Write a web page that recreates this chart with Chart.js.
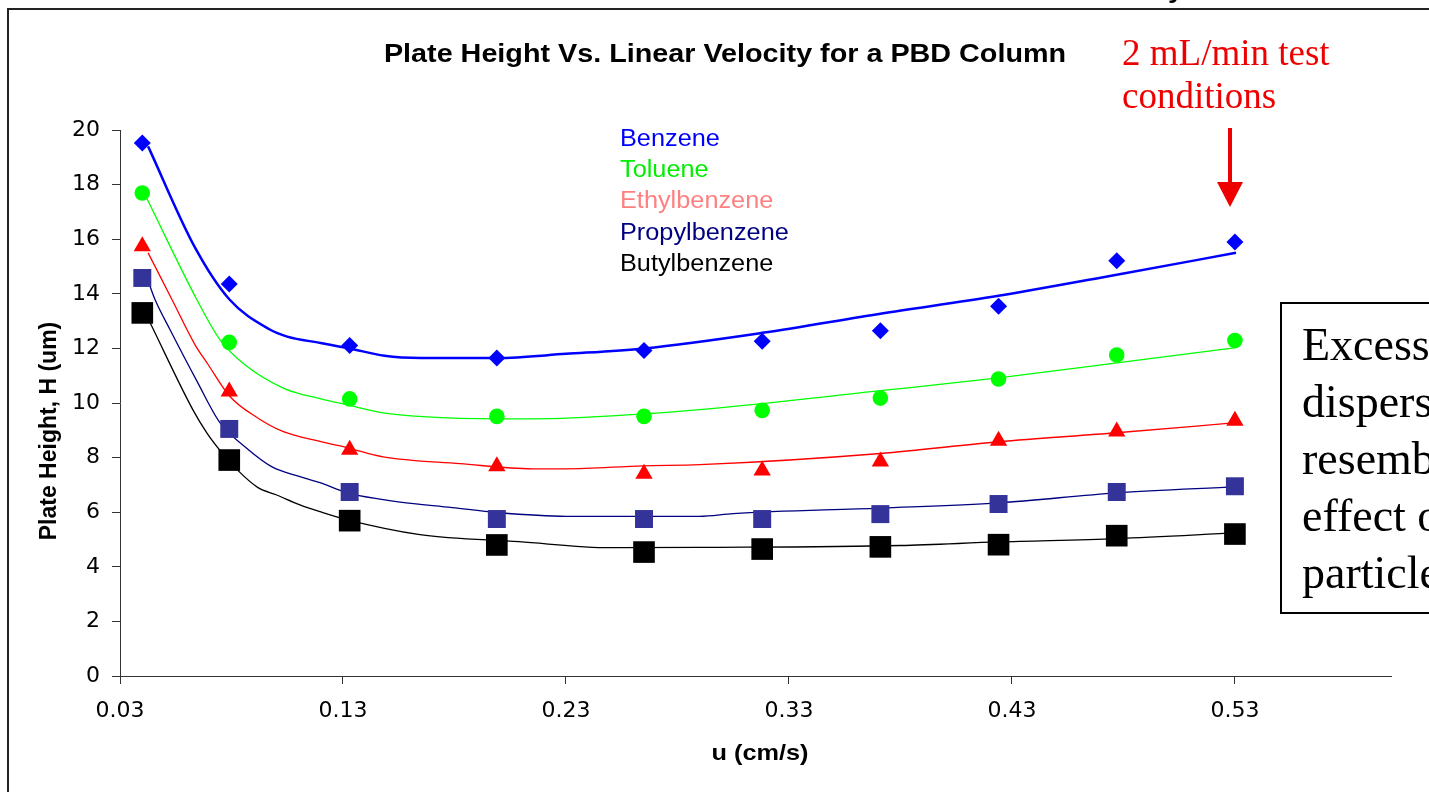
<!DOCTYPE html>
<html>
<head>
<meta charset="utf-8">
<title>Plate Height Vs. Linear Velocity</title>
<script src="https://cdn.jsdelivr.net/npm/chart.js@4.4.1/dist/chart.umd.min.js"></script>
<style>
  html, body { margin: 0; padding: 0; background: #fff; }
  #wrap { width: 1429px; height: 792px; position: relative; }
</style>
</head>
<body>
<div id="wrap"><canvas id="plot"></canvas></div>
<script>
const xTicks = [0.03, 0.13, 0.23, 0.33, 0.43, 0.53];

// measured plate heights (um) at each linear velocity (cm/s)
const velocity = [0.04, 0.079, 0.133, 0.199, 0.265, 0.318, 0.371, 0.424, 0.477, 0.53];
const benzene = [19.52, 14.36, 12.11, 11.65, 11.92, 12.26, 12.65, 13.54, 15.21, 15.9];
const toluene = [17.69, 12.22, 10.15, 9.51, 9.51, 9.73, 10.18, 10.88, 11.76, 12.29];
const ethylbenzene = [15.74, 10.42, 8.29, 7.68, 7.41, 7.53, 7.86, 8.62, 8.96, 9.35];
const propylbenzene = [14.58, 9.05, 6.74, 5.75, 5.75, 5.75, 5.93, 6.30, 6.74, 6.95];
const butylbenzene = [13.30, 7.91, 5.69, 4.80, 4.54, 4.65, 4.73, 4.81, 5.14, 5.20];

// fitted curves
const benzeneFitU = [0.0426, 0.0636, 0.079, 0.097, 0.105, 0.12, 0.133, 0.1486, 0.165, 0.199, 0.23, 0.265, 0.318, 0.371, 0.424, 0.477, 0.5305];
const benzeneFit = [19.4, 15.7, 13.8, 12.7, 12.43, 12.2, 12.0, 11.73, 11.65, 11.65, 11.8, 12.0, 12.57, 13.27, 13.93, 14.7, 15.5];
const tolueneFitU = [0.042, 0.0645, 0.0748, 0.086, 0.104, 0.1197, 0.132, 0.148, 0.166, 0.199, 0.215, 0.2645, 0.29, 0.371, 0.424, 0.477, 0.5305];
const tolueneFit = [17.5, 13.78, 12.32, 11.4, 10.52, 10.16, 9.93, 9.64, 9.5, 9.42, 9.42, 9.6, 9.76, 10.45, 10.92, 11.47, 12.03];
const ethylFitU = [0.0426, 0.0533, 0.0636, 0.0695, 0.0793, 0.0914, 0.103, 0.1197, 0.132, 0.148, 0.1825, 0.215, 0.23, 0.2645, 0.29, 0.371, 0.424, 0.477, 0.5305];
const ethylFit = [15.5, 13.79, 12.14, 11.41, 10.24, 9.47, 8.96, 8.59, 8.36, 8.03, 7.78, 7.59, 7.59, 7.70, 7.74, 8.15, 8.58, 8.91, 9.28];
const propylFitU = [0.0435, 0.0457, 0.0524, 0.0645, 0.0748, 0.086, 0.098, 0.1107, 0.1197, 0.132, 0.148, 0.1556, 0.179, 0.199, 0.23, 0.29, 0.305, 0.371, 0.424, 0.477, 0.5305];
const propylFit = [14.27, 13.79, 12.69, 10.8, 9.28, 8.4, 7.67, 7.3, 7.08, 6.71, 6.46, 6.37, 6.17, 5.99, 5.85, 5.85, 5.95, 6.15, 6.34, 6.71, 6.93];
const butylFitU = [0.0435, 0.0627, 0.069, 0.0757, 0.0825, 0.0919, 0.1, 0.1107, 0.1197, 0.132, 0.1645, 0.209, 0.25, 0.29, 0.38, 0.424, 0.477, 0.5305];
const butylFit = [12.94, 9.75, 8.9, 8.18, 7.56, 6.9, 6.64, 6.27, 6.02, 5.72, 5.18, 4.92, 4.70, 4.71, 4.78, 4.91, 5.03, 5.24];

const legendNames = ["Benzene", "Toluene", "Ethylbenzene", "Propylbenzene", "Butylbenzene"];
const legendColors = ["#0000ff", "#00ee00", "#ff8080", "#000080", "#000000"];

const sans = '"Liberation Sans", Arial, sans-serif';
const serif = '"Liberation Serif", "Times New Roman", serif';

function points(us, hs) {
  let out = [];
  for (let i = 0; i < us.length; i++) {
    out.push({ x: us[i], y: hs[i] });
  }
  return out;
}

function markerSet(label, hs, style, radius, color) {
  return {
    label: label,
    data: points(velocity, hs),
    showLine: false,
    pointStyle: style,
    pointRadius: radius,
    pointHoverRadius: radius,
    pointBackgroundColor: color,
    pointBorderWidth: 0,
    order: 0
  };
}

function fitSet(label, us, hs, color, width) {
  return {
    label: label,
    data: points(us, hs),
    showLine: true,
    borderColor: color,
    borderWidth: width,
    pointRadius: 0,
    cubicInterpolationMode: "monotone",
    order: 1
  };
}

// text squeezed/stretched along x
function wideText(ctx, text, x, y, font, color, align, sx) {
  ctx.save();
  ctx.translate(x, y);
  ctx.scale(sx, 1);
  ctx.font = font;
  ctx.fillStyle = color;
  ctx.textAlign = align;
  ctx.textBaseline = "alphabetic";
  ctx.fillText(text, 0, 0);
  ctx.restore();
}

const decorations = {
  id: "decorations",
  beforeDraw(chart) {
    const ctx = chart.ctx;
    ctx.save();
    ctx.fillStyle = "#fff";
    ctx.fillRect(0, 0, chart.width, chart.height);
    ctx.restore();
  },
  afterDraw(chart) {
    const ctx = chart.ctx;

    // frame round the whole chart object
    ctx.save();
    ctx.strokeStyle = "#222";
    ctx.lineWidth = 2;
    ctx.strokeRect(8, 9, 1500, 900);
    ctx.restore();

    wideText(ctx, "y", 1168, -2, "bold 24px " + sans, "#000", "left", 1.15);

    wideText(ctx, "Plate Height Vs. Linear Velocity for a PBD Column", 725, 62, "bold 25px " + sans, "#000", "center", 1.15);

    for (let i = 0; i < legendNames.length; i++) {
      wideText(ctx, legendNames[i], 620, 146 + i * 31.2, "23px " + sans, legendColors[i], "left", 1.1);
    }

    wideText(ctx, "u (cm/s)", 760, 760, "bold 22px " + sans, "#000", "center", 1.15);

    ctx.save();
    ctx.translate(50, 431);
    ctx.rotate(-Math.PI / 2);
    ctx.font = "bold 23px " + sans;
    ctx.fillStyle = "#000";
    ctx.textAlign = "center";
    ctx.textBaseline = "middle";
    ctx.fillText("Plate Height, H (um)", 0, 0);
    ctx.restore();

    // test condition note and arrow
    ctx.save();
    ctx.font = "37px " + serif;
    ctx.fillStyle = "#ee0000";
    ctx.textAlign = "left";
    ctx.fillText("2 mL/min test", 1122, 65);
    ctx.fillText("conditions", 1122, 108);
    ctx.fillRect(1228, 128, 4, 56);
    ctx.beginPath();
    ctx.moveTo(1217, 182);
    ctx.lineTo(1243, 182);
    ctx.lineTo(1230, 207);
    ctx.closePath();
    ctx.fill();
    ctx.restore();

    // boxed remark at the right edge
    ctx.save();
    ctx.fillStyle = "#fff";
    ctx.fillRect(1281, 303, 200, 310);
    ctx.strokeStyle = "#000";
    ctx.lineWidth = 2;
    ctx.strokeRect(1281, 303, 200, 310);
    ctx.font = "46px " + serif;
    ctx.fillStyle = "#000";
    const lines = ["Excess", "dispersion", "resembles", "effect of", "particle size"];
    for (let i = 0; i < lines.length; i++) {
      ctx.fillText(lines[i], 1302, 360 + i * 57);
    }
    ctx.restore();
  }
};

const tickFont = { family: '"DejaVu Sans", sans-serif', size: 22 };

const chart = new Chart(document.getElementById("plot"), {
  type: "scatter",
  data: {
    datasets: [
      markerSet("Benzene", benzene, "rectRot", 8.5, "#0000ff"),
      markerSet("Toluene", toluene, "circle", 7.8, "#00ff00"),
      markerSet("Ethylbenzene", ethylbenzene, "triangle", 10, "#ff0000"),
      markerSet("Propylbenzene", propylbenzene, "rect", 12.7, "#333399"),
      markerSet("Butylbenzene", butylbenzene, "rect", 15.3, "#000000"),
      fitSet("Benzene fit", benzeneFitU, benzeneFit, "#0000ff", 2.5),
      fitSet("Toluene fit", tolueneFitU, tolueneFit, "#00ff00", 1.3),
      fitSet("Ethylbenzene fit", ethylFitU, ethylFit, "#ff0000", 1.3),
      fitSet("Propylbenzene fit", propylFitU, propylFit, "#000080", 1.3),
      fitSet("Butylbenzene fit", butylFitU, butylFit, "#000000", 1.3)
    ]
  },
  options: {
    responsive: true,
    maintainAspectRatio: false,
    devicePixelRatio: 1,
    animation: false,
    events: [],
    layout: { padding: { left: 0, right: 38, top: 130, bottom: 0 } },
    plugins: {
      legend: { display: false },
      tooltip: { enabled: false }
    },
    scales: {
      x: {
        type: "linear",
        min: 0.03,
        max: 0.6,
        afterBuildTicks: (scale) => { scale.ticks = xTicks.map(v => ({ value: v })); },
        afterFit: (scale) => { scale.height = 116; },
        ticks: {
          callback: (v) => Number(v).toFixed(2),
          font: tickFont,
          color: "#000",
          padding: 14,
          maxRotation: 0,
          autoSkip: false
        },
        grid: { drawOnChartArea: false, drawTicks: true, tickLength: 8, tickColor: "#333" },
        border: { display: true, color: "#333", width: 1 }
      },
      y: {
        type: "linear",
        min: 0,
        max: 20,
        afterFit: (scale) => { scale.width = 120; },
        ticks: { stepSize: 2, font: tickFont, color: "#000", padding: 12 },
        grid: { drawOnChartArea: false, drawTicks: true, tickLength: 8, tickColor: "#333" },
        border: { display: true, color: "#333", width: 1 }
      }
    }
  },
  plugins: [decorations]
});
</script>
</body>
</html>
